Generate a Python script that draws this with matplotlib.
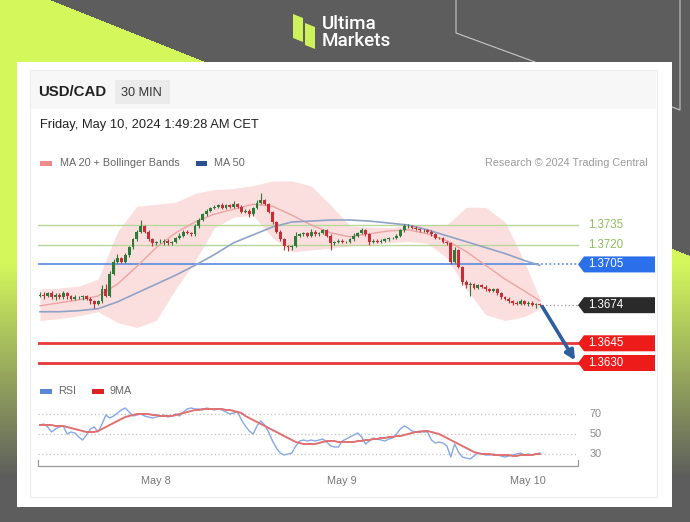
import numpy as np
import matplotlib
matplotlib.use("Agg")
import matplotlib.pyplot as plt
from matplotlib.patches import Rectangle, Polygon

plt.rcParams['font.family'] = ['Liberation Sans', 'DejaVu Sans']

# ---------------- data ----------------
symbol = "USD/CAD"
timeframe = "30 MIN"
stamp = "Friday, May 10, 2024 1:49:28 AM CET"

# 30-minute closes, May 7 09:00 -> May 10 01:30 CET
closes = [
    1.3682, 1.3681, 1.3683, 1.3680, 1.3682, 1.3680, 1.3683, 1.3681, 1.3679, 1.3680,
    1.3680, 1.3681, 1.3679, 1.3677, 1.3675, 1.3677, 1.3686, 1.3681, 1.3698, 1.3707,
    1.3710, 1.3707, 1.3712, 1.3718, 1.3724, 1.3730, 1.3734, 1.3730, 1.3724, 1.3721,
    1.3722, 1.3722, 1.3723, 1.3721, 1.3722, 1.3725, 1.3727, 1.3730, 1.3729, 1.3728,
    1.3734, 1.3739, 1.3743, 1.3746, 1.3748, 1.3749, 1.3750, 1.3748, 1.3750, 1.3749,
    1.3751, 1.3749, 1.3745, 1.3746, 1.3743, 1.3748, 1.3752, 1.3754, 1.3751, 1.3745,
    1.3737, 1.3730, 1.3724, 1.3719, 1.3718, 1.3719, 1.3727, 1.3728, 1.3729, 1.3727,
    1.3730, 1.3728, 1.3729, 1.3731, 1.3727, 1.3721, 1.3722, 1.3723, 1.3722, 1.3722,
    1.3724, 1.3727, 1.3729, 1.3731, 1.3728, 1.3722, 1.3723, 1.3722, 1.3723, 1.3724,
    1.3725, 1.3725, 1.3727, 1.3731, 1.3734, 1.3734, 1.3733, 1.3732, 1.3731, 1.3731,
    1.3730, 1.3728, 1.3725, 1.3725, 1.3722, 1.3721, 1.3707, 1.3716, 1.3703, 1.3692,
    1.3689, 1.3690, 1.3687, 1.3689, 1.3688, 1.3686, 1.3685, 1.3686, 1.3683, 1.3680,
    1.3679, 1.3677, 1.3676, 1.3675, 1.3677, 1.3675, 1.3676, 1.3674, 1.3675, 1.3674,
]
first_open = 1.3681
# wick extensions beyond the body, in pips
upper_wick = [
    2, 2, 1, 2, 1, 1, 2, 1, 1, 2, 1, 1, 1,
    1, 1, 1,
    3, 4, 2, 2, 3, 1, 2, 1, 1, 1, 5, 1, 1, 1,
    1, 2, 1, 1, 1, 1, 2, 1, 1, 1, 2, 1, 1, 1, 1, 1,
    1, 2, 1, 1, 2, 1, 1, 1, 1, 1,
    2, 5, 1, 1, 1, 1, 1, 1, 1, 1,
    3, 1, 1, 1, 2, 1, 1, 1, 1, 1, 1, 1, 1, 1, 1, 2, 1, 2, 1, 1,
    1, 1, 1, 1, 1, 1, 1, 1, 2, 2, 1, 1, 1, 1, 1, 1, 1, 1, 1, 1,
    1, 2, 1, 1, 1, 2, 1, 1, 1, 1, 1, 1, 1, 1, 1, 1, 1, 1, 2, 1, 1, 1, 1, 1,
]
lower_wick = [
    1, 2, 1, 1, 2, 1, 1, 2, 1, 1, 1, 2, 1,
    2, 3, 1,
    1, 1, 1, 1, 1, 1, 1, 1, 1, 1, 1, 1, 1, 2,
    1, 1, 2, 1, 1, 1, 1, 1, 1, 1, 1, 1, 1, 1, 1, 1,
    1, 1, 1, 1, 1, 1, 1, 1, 2, 1,
    1, 1, 1, 1, 1, 1, 1, 3, 3, 2,
    1, 1, 1, 1, 1, 1, 1, 1, 1, 5, 1, 1, 1, 1, 1, 1, 1, 1, 1, 2,
    1, 1, 1, 1, 1, 1, 1, 1, 1, 1, 1, 1, 1, 1, 1, 1, 1, 1, 1, 1,
    2, 1, 1, 3, 2, 8, 1, 1, 1, 1, 1, 1, 1, 1, 1, 1, 2, 1, 1, 1, 2, 1, 2, 1,
]

# indicator readings every 5 bars
ind_bars = [0, 5, 10, 15, 20, 25, 30, 35, 40, 45, 50, 55, 60, 65, 70, 75, 80, 85,
            90, 95, 100, 105, 110, 115, 120, 125, 129]
ma20 = [1.36735, 1.36758, 1.36780, 1.36810, 1.36900, 1.37035, 1.37178, 1.37290,
        1.37373, 1.37433, 1.37470, 1.37508, 1.37493, 1.37425, 1.37350, 1.37290,
        1.37260, 1.37283, 1.37305, 1.37313, 1.37283, 1.37230, 1.37148, 1.37043,
        1.36938, 1.36848, 1.36773]
ma50 = [1.36690, 1.36690, 1.36698, 1.36713, 1.36765, 1.36833, 1.36900, 1.36968,
        1.37043, 1.37125, 1.37215, 1.37275, 1.37335, 1.37373, 1.37380, 1.37388,
        1.37388, 1.37380, 1.37365, 1.37350, 1.37313, 1.37268, 1.37223, 1.37178,
        1.37133, 1.37080, 1.37043]
bb_upper = [1.36863, 1.36870, 1.36885, 1.36938, 1.37298, 1.37493, 1.37508, 1.37523,
            1.37590, 1.37620, 1.37628, 1.37650, 1.37685, 1.37685, 1.37647, 1.37502,
            1.37342, 1.37335, 1.37330, 1.37350, 1.37345, 1.37350, 1.37485, 1.37485,
            1.37373, 1.37073, 1.36788]
bb_lower = [1.36623, 1.36638, 1.36660, 1.36690, 1.36608, 1.36570, 1.36623, 1.36863,
            1.37073, 1.37328, 1.37410, 1.37425, 1.37253, 1.37145, 1.37160, 1.37175,
            1.37190, 1.37200, 1.37215, 1.37225, 1.37210, 1.37100, 1.36863, 1.36668,
            1.36623, 1.36653, 1.36713]

resistance = [1.3735, 1.3720]
pivot = 1.3705
supports = [1.3645, 1.3630]

rsi = [
    59, 60, 57, 52, 55, 57, 58, 50, 52, 51,
    47, 44, 49, 55, 57, 52, 60, 69, 66, 68,
    71, 74, 76, 72, 68, 69, 70, 68, 67, 66,
    67, 68, 69, 67, 68, 70, 68, 72, 75, 76,
    75, 75, 74, 76, 75, 74, 75, 74, 72, 70,
    71, 72, 64, 58, 53, 50, 58, 63, 59, 52,
    43, 36, 31, 29, 30, 31, 38, 43, 44, 43,
    44, 43, 44, 45, 42, 38, 37, 37, 43, 45,
    47, 49, 51, 47, 40, 43, 46, 45, 44, 43,
    45, 46, 50, 55, 58, 56, 53, 52, 53, 52,
    52, 44, 41, 42, 41, 38, 27, 40, 32, 27,
    26, 25, 28, 31, 30, 29, 29, 30, 29, 28,
    27, 28, 29, 30, 31, 29, 30, 29, 30, 31,
]
rsi_ma9 = [
    59, 59, 59, 59, 58, 58, 58, 57, 56, 55,
    54, 53, 52, 52, 52, 53, 55, 57, 59, 61,
    63, 65, 67, 68, 69, 70, 70, 70, 70, 69,
    69, 68, 68, 68, 68, 69, 70, 71, 72, 73,
    74, 74, 75, 75, 75, 75, 75, 75, 74, 74,
    73, 72, 71, 68, 66, 64, 62, 60, 58, 56,
    54, 52, 50, 48, 46, 44, 42, 41, 40, 40,
    40, 40, 41, 42, 43, 43, 43, 42, 42, 42,
    42, 42, 43, 43, 44, 44, 45, 45, 46, 46,
    47, 47, 48, 48, 49, 50, 51, 52, 52, 53,
    53, 52, 51, 50, 48, 46, 44, 42, 40, 38,
    36, 34, 32, 31, 30, 30, 30, 29, 29, 29,
    29, 29, 28, 28, 29, 29, 29, 29, 30, 30,
]
rsi_levels = [70, 50, 30]
day_bars = [30, 78, 126]
day_labels = ["May 8", "May 9", "May 10"]

# ---------------- figure & backdrop ----------------
W, H = 690, 522
fig = plt.figure(figsize=(W / 100, H / 100), dpi=100)

GRAY = np.array([0x5d, 0x5d, 0x5d]) / 255
LIME = np.array([0xd4, 0xf8, 0x5c]) / 255

bg = fig.add_axes([0, 0, 1, 1], zorder=0)
bg.set_xlim(0, W)
bg.set_ylim(H, 0)
bg.axis('off')
yy, xx = np.mgrid[0:H, 0:W] + 0.5
wedge = (xx < 50 + yy * 2.5).astype(float)
fade = np.clip((478 - yy) / (478 - 262), 0, 1)
a = (wedge * fade)[..., None]
bg.imshow(GRAY * (1 - a) + LIME * a, extent=(0, W, H, 0), aspect='auto',
          interpolation='bilinear', zorder=0)
bg.plot([456, 456, 535], [0, 33, 62], color='#c8c8c8', lw=0.8, zorder=1)
bg.plot([680, 680, 672], [0, 110, 107], color='#c8c8c8', lw=0.8, zorder=1)

# logo
bg.add_patch(Polygon([(293, 14), (303, 18), (303, 42), (293, 38)], closed=True,
                     fc='#cdf25a', ec='none', zorder=2))
bg.add_patch(Polygon([(305, 23), (315, 27), (315, 49), (305, 45)], closed=True,
                     fc='#cdf25a', ec='none', zorder=2))
bg.text(322, 24, "Ultima", color='white', fontsize=13.6, family='Roboto',
        fontweight='medium', va='center', ha='left', zorder=2)
bg.text(321.5, 40.5, "Markets", color='white', fontsize=13.6, family='Roboto',
        fontweight='medium', va='center', ha='left', zorder=2)

# card
bg.add_patch(Rectangle((17, 62), 655, 445, fc='white', ec='none', zorder=2))
bg.add_patch(Rectangle((30, 70), 627, 427, fc='white', ec='#ececec', lw=0.8, zorder=2))
bg.add_patch(Rectangle((31, 71), 625, 38, fc='#f7f7f7', ec='none', zorder=2))
bg.add_patch(Rectangle((115, 80), 55, 24, fc='#ebebeb', ec='none', zorder=3))
bg.text(38, 92.5, symbol, fontsize=10.8, fontweight='bold', color='#222222',
        va='center', zorder=4)
bg.text(121, 92.5, timeframe, fontsize=9.2, color='#333333', va='center', zorder=4)
bg.text(40, 125, stamp, fontsize=9.3, color='#222222', va='center', zorder=4)

bg.add_patch(Rectangle((40, 161), 12, 5, fc='#f08a8a', ec='none', zorder=4))
bg.text(60, 163.5, "MA 20 + Bollinger Bands", fontsize=7.8, color='#666666',
        va='center', zorder=4)
bg.add_patch(Rectangle((196, 161), 11, 5, fc='#2b4f8f', ec='none', zorder=4))
bg.text(214, 163.5, "MA 50", fontsize=7.8, color='#666666', va='center', zorder=4)
bg.text(648, 163.5, "Research \u00a9 2024 Trading Central", fontsize=7.8,
        color='#9a9a9a', va='center', ha='right', zorder=4)

bg.add_patch(Rectangle((40, 389), 12, 5, fc='#5b86d6', ec='none', zorder=4))
bg.text(58, 391.5, "RSI", fontsize=7.8, color='#666666', va='center', zorder=4)
bg.add_patch(Rectangle((92, 389), 12, 5, fc='#dd2222', ec='none', zorder=4))
bg.text(110, 391.5, "9MA", fontsize=7.8, color='#666666', va='center', zorder=4)


def add_px_axes(x0, y0, x1, y1, z):
    return fig.add_axes([x0 / W, 1 - y1 / H, (x1 - x0) / W, (y1 - y0) / H], zorder=z)


# bar index <-> horizontal layout: 3.875 px per bar, bar 0 at x=40
def bar_at(px):
    return (px - 40) / 3.875


PX_PER_PRICE = 1 / 0.00007609


def price_at(py):
    return 1.3735 - (py - 225) / PX_PER_PRICE


X_LEFT, X_LINE_END, X_RIGHT = bar_at(38), bar_at(578), bar_at(660)

# ---------------- price panel ----------------
ax = add_px_axes(38, 175, 660, 378, 5)
ax.set_xlim(X_LEFT, X_RIGHT)
ax.set_ylim(price_at(378), price_at(175))
ax.axis('off')
ax.patch.set_alpha(0)

ax.fill_between(ind_bars, bb_lower, bb_upper, color='#fbd6d6', alpha=0.78, lw=0, zorder=1)
ax.plot(ind_bars, ma20, color='#eda3a3', lw=1.0, zorder=2)
ax.plot(ind_bars, ma50, color='#8fa3c6', lw=1.2, zorder=2)

for lvl in resistance:
    ax.plot([X_LEFT, X_LINE_END], [lvl, lvl], color='#b9d69a', lw=1.0, zorder=1.5)
    ax.text(bar_at(588), lvl, f"{lvl:.4f}", color='#8fbd5c', fontsize=8.3,
            va='center', ha='left')
ax.plot([X_LEFT, bar_at(537)], [pivot, pivot], color='#5a8ae0', lw=1.2, zorder=1.5)
ax.plot([bar_at(537), X_LINE_END], [pivot, pivot], color='#5a8ae0', lw=1.2,
        ls=(0, (1, 1.5)), zorder=1.5)
for lvl in supports:
    ax.plot([X_LEFT, X_LINE_END], [lvl, lvl], color='#e8383a', lw=2.0, zorder=1.5)

last = closes[-1]
n = len(closes)
ax.plot([n - 1 + 0.5, X_LINE_END], [last, last], color='#9a9a9a', lw=0.9,
        ls=(0, (1, 2)), zorder=1.5)

# candles
opens = [first_open] + closes[:-1]
pip = 0.0001
for i, (o, c) in enumerate(zip(opens, closes)):
    col = '#2d7a3a' if c >= o else '#c42f38'
    hi = max(o, c) + upper_wick[i] * pip
    lo = min(o, c) - lower_wick[i] * pip
    ax.vlines(i, lo, hi, color=col, lw=0.8, zorder=3)
    body = max(abs(c - o), 0.00003)
    ax.bar(i, body, bottom=min(o, c), width=0.74, color=col, lw=0, zorder=4)


def tag(level, text, fc):
    half = 8 / PX_PER_PRICE
    x_tip, x_body, x_end = bar_at(578), bar_at(584), bar_at(655)
    ax.add_patch(Polygon([(x_tip, level), (x_body, level + half), (x_end, level + half),
                          (x_end, level - half), (x_body, level - half)], closed=True,
                         fc=fc, ec='none', zorder=5, clip_on=False))
    ax.text(bar_at(588), level, text, color='white', fontsize=8.3, va='center',
            ha='left', zorder=6)


tag(pivot, f"{pivot:.4f}", '#2b70ea')
tag(last, f"{last:.4f}", '#2a2a2a')
for lvl in supports:
    tag(lvl, f"{lvl:.4f}", '#ee1b1b')

ax.annotate('', xy=(bar_at(575), supports[1] + 0.0002), xytext=(n - 1 + 0.6, last - 0.0001),
            arrowprops=dict(arrowstyle='-|>', color='#2d5e9e', lw=2.6,
                            mutation_scale=14, shrinkA=0, shrinkB=0), zorder=7)

# ---------------- RSI panel ----------------
axr = add_px_axes(38, 398, 660, 470, 5)
axr.set_xlim(X_LEFT, X_RIGHT)
axr.set_ylim(484 - 470, 484 - 398)
axr.patch.set_alpha(0)
for s in axr.spines.values():
    s.set_visible(False)
axr.set_yticks([])

for lvl in rsi_levels:
    axr.plot([X_LEFT, X_LINE_END], [lvl, lvl], color='#c4c4c4', lw=0.9,
             ls=(0, (1, 2)), zorder=1)
    axr.text(bar_at(590), lvl, str(lvl), color='#8a8a8a', fontsize=7.8,
             va='center', ha='left')

bars = np.arange(n)
axr.plot(bars, rsi, color='#86a8e6', lw=1.0, zorder=2)
axr.plot(bars, rsi_ma9, color='#e07070', lw=1.4, zorder=3)

axr.plot([X_LEFT, X_LEFT, X_LINE_END, X_LINE_END], [24, 18, 18, 24],
         color='#9a9a9a', lw=0.9, clip_on=False)
axr.set_xticks(day_bars, day_labels)
axr.tick_params(axis='x', length=0, pad=4.5, labelsize=7.8, labelcolor='#777777')

fig.savefig("out.png", dpi=100)
